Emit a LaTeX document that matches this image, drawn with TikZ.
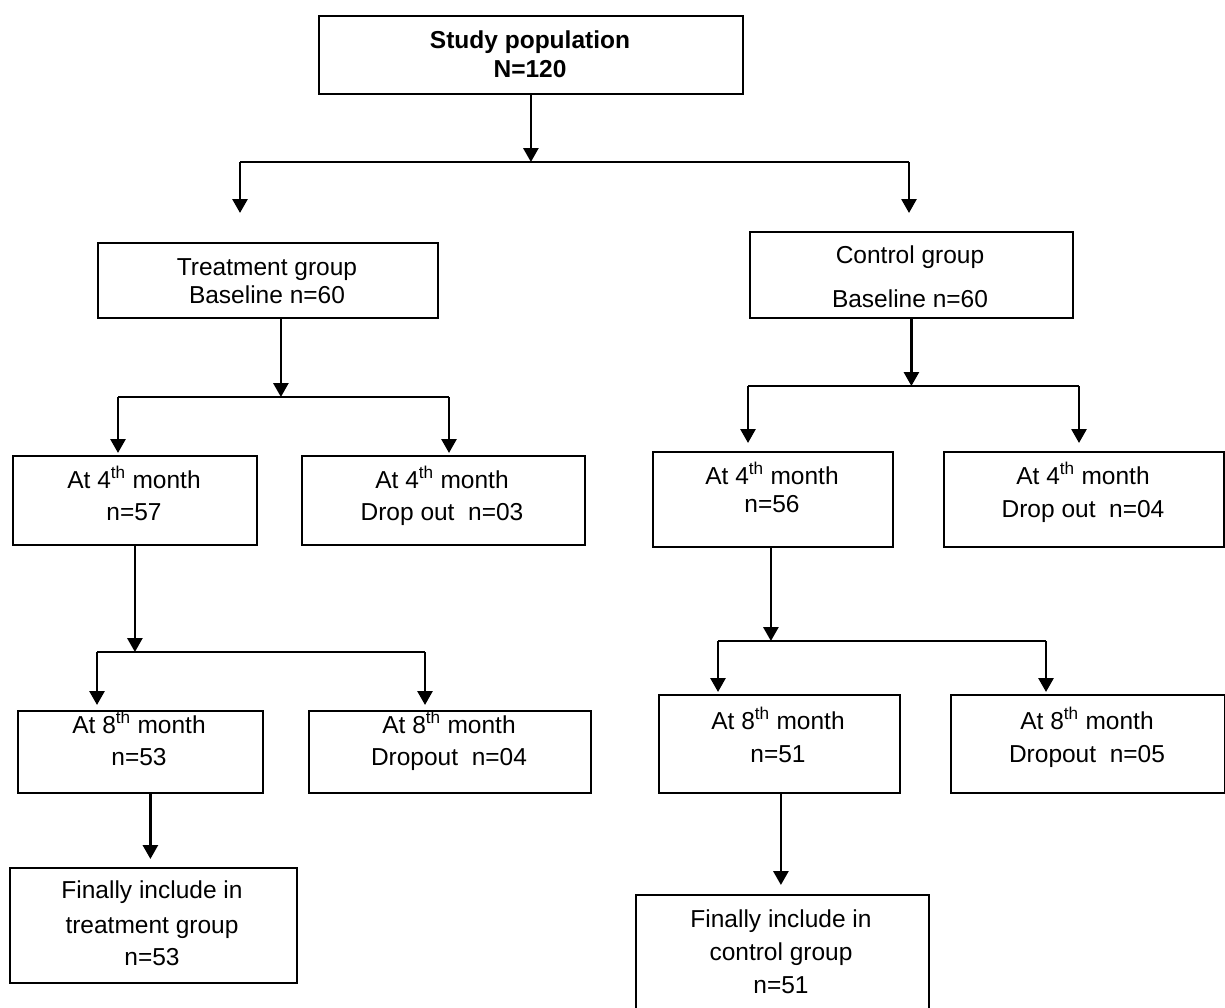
\documentclass[tikz,border=0pt]{standalone}
\usepackage{fontspec}
\setmainfont{Liberation Sans}
\usetikzlibrary{arrows.meta}
\begin{document}
\begin{tikzpicture}[x=1pt,y=-1pt,
  box/.style={draw, line width=1.8pt, inner sep=0pt, anchor=north west},
  txt/.style={anchor=base, inner sep=0pt, font=\fontsize{24.5}{28}\selectfont},
  ttl/.style={anchor=base, inner sep=0pt, font=\fontsize{24.5}{28}\selectfont\bfseries},
  ln/.style={line width=2.8pt},
  arr/.style={line width=2.8pt, -{Triangle[width=15pt,length=14pt]}}]
\useasboundingbox (0,0) rectangle (1225,1007);
\fill[white] (0,0) rectangle (1225,1007);
\clip (0,0) rectangle (1225,1007);
\newcommand\mybox[5]{\node[box, minimum width={(#4-#2)*1pt}, minimum height={(#5-#3)*1pt}] (#1) at (#2,#3) {};}
% boxes
\mybox{top}{318}{15}{742}{93}
\mybox{tg}{97}{242}{437}{317}
\mybox{cg}{749}{231}{1072}{317}
\mybox{ta}{12}{455}{256}{544}
\mybox{tb}{301}{455}{584}{544}
\mybox{ca}{652}{451}{892}{546}
\mybox{cb}{943}{451}{1223}{546}
\mybox{tc}{17}{710}{262}{792}
\mybox{td}{308}{710}{590}{792}
\mybox{cc}{658}{694}{899}{792}
\mybox{cd}{950}{694}{1224}{792}
\mybox{tf}{9}{867}{296}{982}
\mybox{cf}{635}{894}{928}{1016}
% texts
\node[ttl] (topA) at (530,48) {Study population};
\node[ttl] (topB) at (530,77) {N=120};
\node[txt] (tgA) at (267,275) {Treatment group};
\node[txt] (tgB) at (267,303) {Baseline n=60};
\node[txt] (cgA) at (910,263) {Control group};
\node[txt] (cgB) at (910,307) {Baseline n=60};
\node[txt] (taA) at (134,488) {At 4\textsuperscript{th} month};
\node[txt] (taB) at (134,520) {n=57};
\node[txt] (tbA) at (442,488) {At 4\textsuperscript{th} month};
\node[txt] (tbB) at (442,520) {Drop out~~n=03};
\node[txt] (caA) at (772,484) {At 4\textsuperscript{th} month};
\node[txt] (caB) at (772,512) {n=56};
\node[txt] (cbA) at (1083,484) {At 4\textsuperscript{th} month};
\node[txt] (cbB) at (1083,517) {Drop out~~n=04};
\node[txt] (tcA) at (139,733) {At 8\textsuperscript{th} month};
\node[txt] (tcB) at (139,765) {n=53};
\node[txt] (tdA) at (449,733) {At 8\textsuperscript{th} month};
\node[txt] (tdB) at (449,765) {Dropout~~n=04};
\node[txt] (ccA) at (778,729) {At 8\textsuperscript{th} month};
\node[txt] (ccB) at (778,762) {n=51};
\node[txt] (cdA) at (1087,729) {At 8\textsuperscript{th} month};
\node[txt] (cdB) at (1087,762) {Dropout~~n=05};
\node[txt] (tfA) at (152,898) {Finally include in};
\node[txt] (tfB) at (152,933) {treatment group};
\node[txt] (tfC) at (152,965) {n=53};
\node[txt] (cfA) at (781,927) {Finally include in};
\node[txt] (cfB) at (781,960) {control group};
\node[txt] (cfC) at (781,993) {n=51};
% split points
\coordinate (s0L) at (240,162); \coordinate (s0R) at (909,162);
\coordinate (s1L) at (118,397); \coordinate (s1R) at (449,397);
\coordinate (s2L) at (748,386); \coordinate (s2R) at (1079,386);
\coordinate (s3L) at (97,652);  \coordinate (s3R) at (425,652);
\coordinate (s4L) at (718,641); \coordinate (s4R) at (1046,641);
\coordinate (tgx) at ([xshift=13pt]tg.south);
\coordinate (cax) at ([xshift=-2pt]ca.south);
\coordinate (tcx) at ([xshift=10pt]tc.south);
\coordinate (ccx) at ([xshift=1.5pt]cc.south);
% connectors
\draw[ln] (s0L) -- (s0R);
\draw[arr] (top.south) -- (top.south |- s0L);
\draw[arr, shorten >=29pt] (s0L) -- (s0L |- tg.north);
\draw[arr, shorten >=18pt] (s0R) -- (s0R |- cg.north);
\draw[ln] (s1L) -- (s1R);
\draw[arr] (tgx) -- (tgx |- s1L);
\draw[arr, shorten >=2pt] (s1L) -- (s1L |- ta.north);
\draw[arr, shorten >=2pt] (s1R) -- (s1R |- tb.north);
\draw[ln] (s2L) -- (s2R);
\draw[arr] (cg.south) -- (cg.south |- s2L);
\draw[arr, shorten >=8pt] (s2L) -- (s2L |- ca.north);
\draw[arr, shorten >=8pt] (s2R) -- (s2R |- cb.north);
\draw[ln] (s3L) -- (s3R);
\draw[arr] (ta.south) -- (ta.south |- s3L);
\draw[arr, shorten >=5pt] (s3L) -- (s3L |- tc.north);
\draw[arr, shorten >=5pt] (s3R) -- (s3R |- td.north);
\draw[ln] (s4L) -- (s4R);
\draw[arr] (cax) -- (cax |- s4L);
\draw[arr, shorten >=2pt] (s4L) -- (s4L |- cc.north);
\draw[arr, shorten >=2pt] (s4R) -- (s4R |- cd.north);
\draw[arr, shorten >=8pt] (tcx) -- (tcx |- tf.north);
\draw[arr, shorten >=9pt] (ccx) -- (ccx |- cf.north);
\end{tikzpicture}
\end{document}
